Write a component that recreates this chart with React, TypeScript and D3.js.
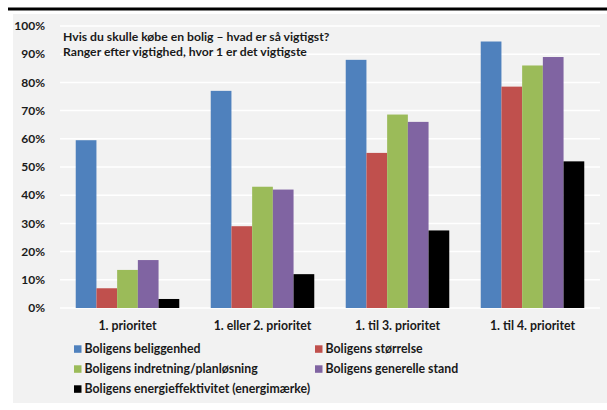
import React from "react";
import * as d3 from "d3";

const categories = ["1. prioritet", "1. eller 2. prioritet", "1. til 3. prioritet", "1. til 4. prioritet"];
const seriesNames = [
  "Boligens beliggenhed",
  "Boligens størrelse",
  "Boligens indretning/planløsning",
  "Boligens generelle stand",
  "Boligens energieffektivitet (energimærke)",
];
const beliggenhed = [0.595, 0.77, 0.88, 0.945];
const stoerrelse = [0.07, 0.29, 0.55, 0.785];
const indretning = [0.135, 0.43, 0.686, 0.86];
const stand = [0.17, 0.42, 0.66, 0.89];
const energi = [0.032, 0.12, 0.275, 0.52];
const seriesValues = [beliggenhed, stoerrelse, indretning, stand, energi];
const colors = ["#4F81BD", "#C0504D", "#9BBB59", "#8064A2", "#000000"];
const yTicks = [0, 0.1, 0.2, 0.3, 0.4, 0.5, 0.6, 0.7, 0.8, 0.9, 1.0];
const titleLines = ["Hvis du skulle købe en bolig – hvad er så vigtigst?", "Ranger efter vigtighed, hvor 1 er det vigtigste"];

const FONT = "Lato, 'Open Sans', sans-serif";

export default function App() {
  const W = 607, H = 410;
  const plotL = 60, plotR = 600, plotT = 26, plotB = 308;
  const y = d3.scaleLinear().domain([0, 1]).range([plotB, plotT]);
  const x0 = d3.scaleBand<string>().domain(categories).range([plotL, plotR]).paddingInner(0).paddingOuter(0);
  const x1 = d3.scaleBand<number>().domain(d3.range(seriesNames.length)).range([0, x0.bandwidth()]).paddingOuter(0.76).paddingInner(0);
  const fmt = d3.format(".0%");
  const legendPos = [
    [74, 349], [315, 349], [74, 369], [315, 369], [74, 389],
  ];
  return (
    <svg width={W} height={H} style={{ position: "absolute", left: 0, top: 0 }} fontFamily={FONT}>
      <rect x={0} y={0} width={W} height={H} fill="#ffffff" />
      <line x1={8} x2={W} y1={9} y2={9} stroke="#000" strokeWidth={3} />
      <rect x={13} y={14} width={W - 13} height={389} fill="#f2f2f2" />
      {yTicks.map((t) => (
        <g key={t}>
          <line x1={plotL} x2={plotR} y1={y(t)} y2={y(t)} stroke="#ffffff" strokeWidth={1.5} />
          <text x={45} y={y(t)} dy="0.35em" textAnchor="end" fontSize={12} fontWeight="bold" fill="#1a1a1a">
            {fmt(t)}
          </text>
        </g>
      ))}
      {categories.map((c, ci) => (
        <g key={c} transform={`translate(${x0(c)},0)`}>
          {seriesValues.map((vals, si) => (
            <rect
              key={si}
              x={x1(si)}
              y={y(vals[ci])}
              width={x1.bandwidth()}
              height={plotB - y(vals[ci])}
              fill={colors[si]}
            />
          ))}
          <text x={x0.bandwidth() / 2} y={326} dy="0.35em" textAnchor="middle" fontSize={12.3} fontWeight="bold" fill="#1a1a1a">
            {c}
          </text>
        </g>
      ))}
      {titleLines.map((t, i) => (
        <text key={i} x={63} y={37 + i * 14.5} dy="0.35em" fontSize={12.2} fontWeight="bold" fill="#1a1a1a">
          {t}
        </text>
      ))}
      {seriesNames.map((n, i) => (
        <g key={n} transform={`translate(${legendPos[i][0]},${legendPos[i][1]})`}>
          <rect x={0} y={-3.7} width={7.5} height={7.5} fill={colors[i]} />
          <text x={10.5} y={0} dy="0.35em" fontSize={12.3} fontWeight="bold" fill="#1a1a1a">
            {n}
          </text>
        </g>
      ))}
    </svg>
  );
}
